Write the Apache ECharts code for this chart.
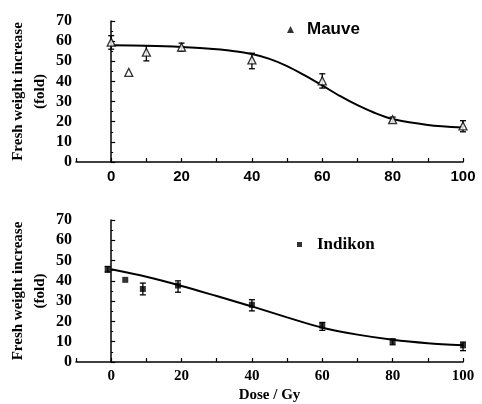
<!DOCTYPE html>
<html>
<head>
<meta charset="utf-8">
<script src="https://cdn.jsdelivr.net/npm/echarts@6/dist/echarts.min.js"></script>
<style>
  html, body { margin: 0; padding: 0; background: #fff; }
  #chart { width: 482px; height: 404px; }
</style>
</head>
<body>
<div id="chart"></div>
<script>
// Mauve (top panel)
var mauveDose = [0, 5, 10, 20, 40, 60, 80, 100];
var mauveMean = [59.5, 44.5, 54.5, 57, 50.7, 40.3, 21, 17.9];
var mauveLow  = [56, 44.5, 50.2, 55, 46.3, 36.7, 19.8, 15];
var mauveHigh = [62.7, 44.5, 57.7, 59, 54, 43.8, 22.3, 20.5];
var mauveFitX = [0, 10, 20, 30, 35, 40, 45, 50, 55, 60, 65, 70, 75, 80, 90, 100];
var mauveFitY = [57.9, 57.7, 57.1, 56.0, 55.0, 53.6, 51.2, 47.6, 43.0, 38.0, 32.8, 28.2, 24.3, 21.3, 18.4, 17.1];

// Indikon (bottom panel)
var indiDose = [-1, 4, 9, 19, 40, 60, 80, 100];
var indiMean = [45.7, 40.5, 36, 37.7, 28.2, 18, 10.2, 8.2];
var indiLow  = [44.3, 40.5, 33.1, 34.4, 25.2, 15.6, 8.5, 5.6];
var indiHigh = [47.1, 40.5, 38.9, 40, 30.7, 19.5, 11.3, 9.8];
var indiFitX = [0, 10, 20, 30, 40, 50, 60, 70, 80, 90, 100];
var indiFitY = [45.7, 42.0, 37.5, 32.5, 27.4, 22.0, 16.9, 13.5, 11.0, 9.3, 8.2];

var yTicks = { min: 0, max: 70, interval: 10 };
var xTicks = { min: -10, max: 100, interval: 10 };

function pairs(xs, ys) {
    return xs.map(function (x, i) { return [x, ys[i]]; });
}
function errData(xs, lo, hi) {
    return xs.map(function (x, i) { return [x, lo[i], hi[i]]; });
}
function errorBars(params, api) {
    var x = api.value(0);
    var lo = api.coord([x, api.value(1)]);
    var hi = api.coord([x, api.value(2)]);
    if (Math.abs(lo[1] - hi[1]) < 1) return null;
    var w = 3;
    var st = { stroke: '#000', lineWidth: 1.3 };
    return {
        type: 'group',
        children: [
            { type: 'line', shape: { x1: lo[0], y1: lo[1], x2: hi[0], y2: hi[1] }, style: st },
            { type: 'line', shape: { x1: lo[0] - w, y1: lo[1], x2: lo[0] + w, y2: lo[1] }, style: st },
            { type: 'line', shape: { x1: hi[0] - w, y1: hi[1], x2: hi[0] + w, y2: hi[1] }, style: st }
        ]
    };
}

function xAxisOf(idx, labelFont, name) {
    return {
        type: 'value', gridIndex: idx,
        min: xTicks.min, max: xTicks.max, interval: xTicks.interval,
        name: name || '', nameLocation: 'middle', nameGap: 26, nameMoveOverlap: false,
        nameTextStyle: { fontFamily: 'Liberation Serif', fontWeight: 'bold', fontSize: 15, color: '#000' },
        axisLine: { lineStyle: { color: '#000', width: 1.5 } },
        axisTick: { inside: true, length: 4, lineStyle: { color: '#000', width: 1.2 } },
        axisLabel: {
            margin: 7, color: '#000', fontFamily: labelFont, fontWeight: 'bold', fontSize: 15,
            formatter: function (v) { return (v >= 0 && v % 20 === 0) ? v : ''; }
        },
        splitLine: { show: false }
    };
}
function yAxisOf(idx) {
    return {
        type: 'value', gridIndex: idx,
        min: yTicks.min, max: yTicks.max, interval: yTicks.interval,
        name: 'Fresh weight increase\n(fold)', nameLocation: 'middle', nameGap: 25, nameRotate: 90,
        nameMoveOverlap: false,
        nameTextStyle: { fontFamily: 'Liberation Serif', fontWeight: 'bold', fontSize: 15, color: '#000', lineHeight: 22 },
        axisLine: { show: true, lineStyle: { color: '#000', width: 1.5 } },
        axisTick: { inside: true, length: 4, lineStyle: { color: '#000', width: 1.2 } },
        minorTick: { show: true, splitNumber: 2, length: 2, lineStyle: { color: '#000' } },
        axisLabel: { margin: 4, color: '#000', fontFamily: 'Liberation Serif', fontWeight: 'bold', fontSize: 16 },
        splitLine: { show: false }
    };
}

var chart = echarts.init(document.getElementById('chart'), null, { renderer: 'canvas' });
chart.setOption({
    animation: false,
    backgroundColor: '#fff',
    grid: [
        { left: 76, top: 21, width: 387, height: 141, outerBoundsMode: 'none' },
        { left: 76, top: 220, width: 387, height: 142, outerBoundsMode: 'none' }
    ],
    legend: [
        {
            data: [{ name: 'Mauve', icon: 'triangle' }],
            left: 282, top: 16, itemWidth: 7, itemHeight: 7,
            itemStyle: { color: '#000', borderWidth: 0 },
            textStyle: { fontFamily: 'Liberation Sans', fontWeight: 'bold', fontSize: 17, color: '#000', padding: [0, 0, 0, 8] }
        },
        {
            data: [{ name: 'Indikon', icon: 'rect' }],
            left: 292, top: 231, itemWidth: 5, itemHeight: 5,
            itemStyle: { color: '#000', borderWidth: 0 },
            textStyle: { fontFamily: 'Liberation Serif', fontWeight: 'bold', fontSize: 17, color: '#000', padding: [0, 0, 0, 10] }
        }
    ],
    xAxis: [xAxisOf(0, 'Liberation Sans'), xAxisOf(1, 'Liberation Serif', 'Dose / Gy')],
    yAxis: [yAxisOf(0), yAxisOf(1)],
    series: [
        {
            name: 'Mauve fit', type: 'line', xAxisIndex: 0, yAxisIndex: 0,
            data: pairs(mauveFitX, mauveFitY), smooth: 0.3, showSymbol: false,
            lineStyle: { color: '#000', width: 2 }, z: 1
        },
        {
            name: 'Mauve err', type: 'custom', xAxisIndex: 0, yAxisIndex: 0,
            data: errData(mauveDose, mauveLow, mauveHigh), renderItem: errorBars, z: 2
        },
        {
            name: 'Mauve', type: 'scatter', xAxisIndex: 0, yAxisIndex: 0,
            data: pairs(mauveDose, mauveMean), symbol: 'triangle', symbolSize: 8,
            itemStyle: { color: '#fff', borderColor: '#000', borderWidth: 1.3 }, z: 3
        },
        {
            name: 'Indikon fit', type: 'line', xAxisIndex: 1, yAxisIndex: 1,
            data: pairs(indiFitX, indiFitY), smooth: 0.3, showSymbol: false,
            lineStyle: { color: '#000', width: 2 }, z: 1
        },
        {
            name: 'Indikon err', type: 'custom', xAxisIndex: 1, yAxisIndex: 1,
            data: errData(indiDose, indiLow, indiHigh), renderItem: errorBars, z: 2
        },
        {
            name: 'Indikon', type: 'scatter', xAxisIndex: 1, yAxisIndex: 1,
            data: pairs(indiDose, indiMean), symbol: 'rect', symbolSize: 6,
            itemStyle: { color: '#000' }, z: 3
        }
    ]
});
</script>
</body>
</html>
